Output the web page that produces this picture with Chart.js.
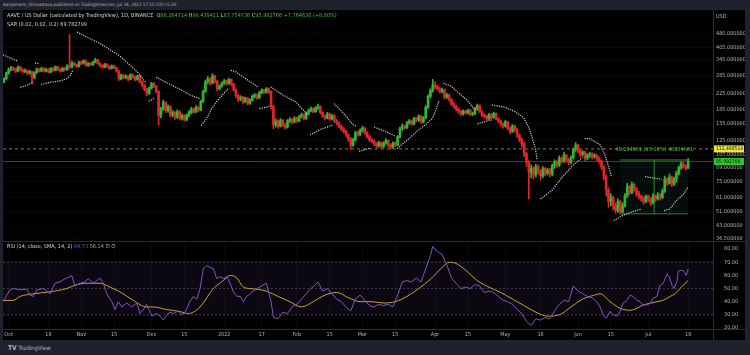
<!DOCTYPE html>
<html><head><meta charset="utf-8">
<script src="https://cdn.jsdelivr.net/npm/chart.js@4.4.0/dist/chart.umd.min.js"></script>
<style>
html,body{margin:0;padding:0;width:750px;height:355px;overflow:hidden;background:#1e222d;}
body{font-family:"Liberation Sans Narrow","DejaVu Sans Condensed","Liberation Sans",sans-serif;}
#bg{position:absolute;left:3px;top:10px;width:742px;height:330px;background:#000;}
canvas{position:absolute;left:0;}
.t{position:absolute;white-space:nowrap;line-height:1;}
.g{color:#3cc43c}.w{color:#d1d4dc}
</style></head><body>
<div id="bg"></div>
<canvas id="main" width="745" height="231" style="top:10px;width:745px;height:231px"></canvas>
<canvas id="rsi" width="745" height="99" style="top:241px;width:745px;height:99px"></canvas>
<div class="t" style="left:3px;top:3px;font-size:4.5px;color:#b2b5be">Aaryamann_Shrivastava published on TradingView.com, Jul 18, 2022 17:15 UTC+5:30</div>
<div class="t w" style="left:7px;top:13px;font-size:5.5px">AAVE / US Dollar (calculated by TradingView), 1D, BINANCE&nbsp; O<span class="g">88.264714</span> H<span class="g">99.439411</span> L<span class="g">87.754736</span> C<span class="g">95.992766</span> <span class="g">+7.764630 (+8.80%)</span></div>
<div class="t w" style="left:7px;top:21.5px;font-size:5.5px">SAR (0.02, 0.02, 0.2) <span style="color:#d1d4dc">69.782799</span></div>
<div class="t w" style="left:7px;top:243.5px;font-size:5.5px">RSI (14, close, SMA, 14, 2) <span style="color:#7e57c2">64.73</span> <span style="color:#c9a43a">56.14</span> ∅ ∅</div>
<div class="t" style="left:716px;top:13.5px;font-size:5.5px;color:#b2b5be">USD</div>
<div class="t" style="left:8px;top:344.5px;font-size:6px;color:#b2b5be"><b style="font-size:6.5px">TV</b> TradingView</div>
<script>
const FONT='"Liberation Sans Narrow","DejaVu Sans Condensed","Liberation Sans",sans-serif';
const START_DAY=-2;          // first candle = Sep 29 2021 (day 0 = Oct 1 2021)
const XMIN=-2.4, XMAX=300.6;
const opens=[262,272,292,305,312,308,300,315,305,298, 302,292,298,276,295,306,300,310,300,306, 296,310,302,316,306,300,311,305,322,316, 332,325,318,335,330,341,322,330,325,336, 345,330,320,315,326,318,310,320,314,300, 272,285,276,282,270,286,278,270,282,262, 250,238,226,242,256,248,232,172,186,202, 182,192,172,178,168,180,166,171,163,172, 178,186,180,190,184,204,232,262,272,258, 282,264,240,248,258,266,256,270,255,238, 220,210,216,204,213,200,208,218,222,214, 228,236,230,240,232,192,152,160,150,161, 152,148,160,163,158,166,160,169,173,165, 176,182,187,180,188,192,178,170,166,175, 164,171,160,156,150,144,140,134,128,118, 126,138,135,142,146,138,132,126,124,120, 117,122,116,121,125,118,115,121,118,131, 145,150,147,156,160,154,165,161,170,158, 166,190,218,235,252,246,240,232,237,216, 222,210,198,192,186,180,175,181,177,183, 174,176,186,194,180,172,170,165,173,167, 176,165,160,154,150,158,146,140,150,144, 134,127,120,106,95,84,88,81,90,85, 80,88,83,86,82,91,95,92,100,97, 104,98,95,101,112,118,110,105,108,100, 104,106,102,104,100,97,90,79,67,58, 61,55,52,58,51,55,62,70,65,72, 68,64,62,60,58,62,60,57,62,60, 63,61,66,77,73,79,72,77,83,89, 93,90,88.264714];
const closes=[272,292,305,312,308,300,315,305,298,302, 292,298,276,295,306,300,310,300,306,296, 310,302,316,306,300,311,305,322,316,332, 325,318,335,330,341,322,330,325,336,345, 330,320,315,326,318,310,320,314,300,272, 285,276,282,270,286,278,270,282,262,250, 238,226,242,256,248,232,172,186,202,182, 192,172,178,168,180,166,171,163,172,178, 186,180,190,184,204,232,262,272,258,282, 264,240,248,258,266,256,270,255,238,220, 210,216,204,213,200,208,218,222,214,228, 236,230,240,232,192,152,160,150,161,152, 148,160,163,158,166,160,169,173,165,176, 182,187,180,188,192,178,170,166,175,164, 171,160,156,150,144,140,134,128,118,126, 138,135,142,146,138,132,126,124,120,117, 122,116,121,125,118,115,121,118,131,145, 150,147,156,160,154,165,161,170,158,166, 190,218,235,252,246,240,232,237,216,222, 210,198,192,186,180,175,181,177,183,174, 176,186,194,180,172,170,165,173,167,176, 165,160,154,150,158,146,140,150,144,134, 127,120,106,95,84,88,81,90,85,80, 88,83,86,82,91,95,92,100,97,104, 98,95,101,112,118,110,105,108,100,104, 106,102,104,100,97,90,79,67,58,61, 55,52,58,51,55,62,70,65,72,68, 64,62,60,58,62,60,57,62,60,63, 61,66,77,73,79,72,77,83,89,93, 90,88.264714,95.992766];
const highs=[276,296,312,318,316,311,320,318,309,308, 304,303,300,298,312,310,315,313,311,309, 314,313,320,318,309,315,314,325,475,340, 336,328,340,341,346,344,334,334,340,352, 348,333,325,330,329,321,324,323,316,302, 289,288,286,284,290,289,281,285,284,265, 253,241,246,260,259,250,234,190,208,204, 196,194,182,180,184,182,175,173,175,182, 190,188,194,192,208,236,268,280,275,290, 284,266,252,262,270,268,274,272,257,240, 223,220,218,216,215,212,222,226,224,232, 240,238,244,242,234,195,164,162,165,163, 155,163,167,165,169,168,172,177,175,179, 186,191,189,192,198,194,180,172,178,177, 174,173,163,158,152,147,142,136,130,129, 141,141,145,150,148,140,134,128,126,122, 124,123,123,128,126,120,123,123,133,148, 154,152,159,163,162,168,167,173,171,169, 194,222,240,270,262,252,244,242,239,226, 224,212,202,195,189,183,184,183,186,185, 179,190,198,196,182,175,172,176,175,179, 177,167,162,156,161,159,148,153,152,146, 136,129,122,108,97,92,90,93,92,87, 90,89,88,88,93,98,97,103,102,108, 105,100,103,114,122,119,112,110,109,106, 108,107,106,105,102,98,91,81,69,64, 62,57,60,59,57,64,73,71,74,73, 69,66,63,62,63,63,61,64,63,65, 64,68,80,78,82,80,79,85,91,96, 95,92,99.439411];
const lows=[258,268,288,300,302,294,297,300,292,294, 286,288,256,272,291,296,297,296,297,292, 293,298,300,302,296,298,301,302,310,312, 320,312,315,325,327,318,318,320,322,332, 326,315,310,312,313,305,307,309,295,266, 268,272,272,265,268,274,265,267,258,246, 234,220,223,239,244,228,152,166,183,178, 178,168,168,163,165,162,162,159,160,169, 175,176,177,180,182,202,229,256,252,255, 258,234,236,245,253,251,253,250,232,214, 204,206,198,201,196,197,205,214,210,212, 225,226,227,226,186,145,148,146,148,149, 144,146,157,154,156,157,158,166,162,163, 173,179,177,178,185,175,167,162,164,161, 162,157,152,147,141,137,131,124,112,116, 124,132,133,139,135,129,123,121,117,114, 115,113,114,119,115,112,113,116,117,129, 142,144,145,153,151,152,158,159,155,156, 164,187,214,230,240,235,228,228,212,212, 205,194,188,182,176,171,172,174,174,171, 171,173,183,177,169,166,162,163,160,165, 162,156,150,146,148,143,136,138,140,130, 123,115,102,90,60,78,77,79,82,76, 78,80,81,79,80,88,89,90,94,95, 95,92,93,99,109,107,102,103,97,98, 101,99,100,97,94,87,76,62,54,55, 52,50,50.5,49.65,50,54,61,63,64,66, 62,60,58,56,57,58,55,56,58,59, 59,60,65,71,72,70,71,74,81,87, 88,86,87.754736];
// Parabolic SAR (day, price); null splits the trend runs
const sarX=[-2.4,1,4,null,5,8,10.5,null,11.2,13,null,13.8,17.7,21.9,24.8,26.2,27.4,null,29.2,33.3,39,43.3,47.5,51,55.2,58.8,null,59.8,62.3,null,63,68,73.7,78,81.6,null,82.2,84.4,86.5,88.6,90.8,93.6,null,94.8,97,101.3,106.3,null,107,111.3,null,111.8,117,122.7,127.7,null,128.6,132.6,138.3,null,138.8,142.6,146.9,148.2,null,149.6,154.5,null,156,160.2,165.2,null,165.8,170.2,174.4,178,180.8,182.3,183.7,null,185.5,188.7,192.2,195.8,199,null,200,202,205.6,null,206.2,211.7,216,219.8,222,223.4,224.8,225.5,null,227,232,236.3,240.6,244.9,null,245.8,248,252.3,254.4,255.8,257.2,null,258.2,262.3,266.6,270.2,null,271.6,275.2,278.7,null,279.7,282.2,285.1,288,290];
const sarY=[368,352,339,null,244,251,260,null,332,329,null,253,260,265,272,283,303,null,490,460,425,392,362,330,294,257,null,205,213,null,277,257,236,220,212,null,151,164,185,203,219,240,null,303,297,271,246,null,187,192,null,246,222,203,172,null,134,143,152,null,199,178,153,150,null,109,114,null,148,141,132,null,113,126,141,153,165,183,207,null,257,248,227,207,184,null,154,157,162,null,196,190,180,167,147,130,113,99,null,59.8,67,79,91,101,null,128,128,119,105,92,80,null,45.6,48.9,51.2,52.8,null,79.4,78,76.8,null,51.7,52.8,59,63.5,69.782799];
const priceTicks=[480,405,345,285,225,185,155,125,105,89,75,61,51,43,36.5];
const lastPrice=95.992766, markedPrice=112.498514;
const rangeDays=[261,290], rangeLow=49.645, rangeHigh=97.88, rangeMid=275.5;
const rangeText='48.234661 (97.16%) 48234661';
// RSI (day, value) and its SMA
const rsiX=[-2.4,0.6,2,4.9,7.7,9.1,10.5,12,14.8,17.7,19.8,21.9,24.1,26.2,26.9,28.3,30.5,32.6,34,36.1,39,40.4,41.9,44,45.4,46.8,48.3,50.4,52.5,54.7,56.1,57.5,58.9,61.1,63.2,64.6,66,67.5,68.9,70.3,72.4,73.9,75.3,77.4,78.8,80.3,81.7,83.1,84.5,86,87.4,88.8,90.2,91.6,93.1,94.5,95.9,97.4,98.8,100.2,101.6,103,106,108,110,112,113,115,117,119,121,123,125,127,129,131,132,134,136,138,140,142,144,146,148,150,152,154,156,158,160,162,164,166,168,170,172,174,176,178,180,181,183,185,187,189,191,193,195,197,199,201,203,205,207,209,211,213,215,217,219,221,223,225,227,229,231,233,235,237,239,241,243,245,247,249,251,252.4,253.7,255,256.7,258,259.7,260.9,262.2,263.9,265.2,266.5,268.2,269.5,270.8,272.5,273.7,275,276.7,278,279.3,281,281.9,283.2,284,285.3,285.7,287.4,288.3,289.2,290];
const rsiY=[40,49,50,49,49.5,45,44,49,50,46,54,55,57.5,59,60,52,54,55,57.5,54,58,54,46,40,34,40,36,39,36,39,31,34,38,29,31,29,26,30,32,31,33,30,32,40,44,42,50,65,67.5,66,65,57.5,59,57.5,59,54,47.5,44,44,40,44,46,50,52,54,40,28,27,32,31,36,38,42,46,50,53,55,48,50,46,42,40,36,33,42,45,41,37,36,38,37,38,36,45,55,56,55,58,55,65,75,82,78,76,68,58,54,50,51,50,53,52,47,48,47,44,41,40,38,34,31,25,22,27,26,28,27,33,38,41,40,52,48,46,44,43,40,36,30,27.5,32.5,30,29,32.5,38.75,41,45,44,41,40,37.5,37.5,38.75,42.5,44,52.5,53.75,61,58.75,52,50,56,63,64,63,60,64.73];
const maX=[-2.4,2,4.9,10.5,17.7,24.8,29.1,34.7,39,43.3,47.5,53.2,58.9,61.8,67.5,73.1,76.7,81.7,87.4,91.6,94.5,97.4,100.2,103,110,115,120,125,130,135,140,145,150,155,160,165,170,175,180,185,188,191,195,200,205,210,215,220,225,230,235,240,245,250,252.4,256.7,260.9,265.2,268.2,270.8,273.7,276.7,279.3,282.3,284.4,286.5,290];
const maY=[41,41,44,46,47.5,50,53,54,54,51,47.5,41,36,36,34,32.5,31,36,50,56,60,58,51,50,48,44,40,36,40,45,47,43,40,40,39,40,44,50,57,66,70,69,64,56,51,47,42,37,32,29,30,36,42,45,46,40,35,33.5,35,37.5,38.75,40,41,44,46,50,56.14];
const rsiTicks=[80,70,60,50,40,30,20];
const tickDays=[0,17,31,45,61,75,92,108,123,137,151,165,182,196,212,227,243,257,273,290];
const tickLabels=['Oct','18','Nov','15','Dec','15','2022','17','Feb','15','Mar','15','Apr','15','May','16','Jun','15','Jul','18'];

const GREEN='#2fb82f', RED='#e0262b';
const pts=(xs,ys)=>xs.map((x,i)=>({x:x,y:ys[i]}));
const candleCol=closes.map((c,i)=>c>=opens[i]?GREEN:RED);
const wickData=highs.map((h,i)=>({x:START_DAY+i,y:[lows[i],h]}));
const bodyData=closes.map((c,i)=>({x:START_DAY+i,y:[opens[i],c]}));
const hline=(v)=>[{x:XMIN,y:v},{x:XMAX,y:v}];
const noPad=s=>{s.paddingTop=0;s.paddingBottom=0;s.paddingLeft=0;s.paddingRight=0;};

const mainOverlay={id:'mainOverlay',afterDraw(chart){
  const ctx=chart.ctx,ys=chart.scales.y,xs=chart.scales.x,ca=chart.chartArea;
  ctx.save();
  ctx.strokeStyle='#2a2e39';ctx.lineWidth=1;
  ctx.beginPath();ctx.moveTo(ca.right+0.5,0);ctx.lineTo(ca.right+0.5,chart.height);ctx.stroke();
  ctx.font='5px '+FONT;ctx.textBaseline='middle';
  const box=(v,bg,fg,txt)=>{const py=ys.getPixelForValue(v);ctx.fillStyle=bg;ctx.fillRect(ca.right+1,py-3.5,30,7);ctx.fillStyle=fg;ctx.textAlign='left';ctx.fillText(txt,ca.right+3,py+0.3);};
  box(markedPrice,'#f0e442','#131722',markedPrice.toFixed(6));
  box(lastPrice,'#2fc42f','#0b2a0b',lastPrice.toFixed(6));
  ctx.font='5.5px '+FONT;ctx.fillStyle='#3fc83f';ctx.textAlign='center';
  ctx.fillText(rangeText,xs.getPixelForValue(rangeMid),ys.getPixelForValue(markedPrice)+0.3);
  ctx.restore();
}};

new Chart(document.getElementById('main'),{
  type:'bar',
  data:{datasets:[
    {type:'line',data:pts(sarX,sarY),borderColor:'#cfcfcf',borderWidth:1.2,borderDash:[1.2,1.15],pointRadius:0,spanGaps:false,order:0},
    {type:'bar',data:bodyData,backgroundColor:candleCol,barThickness:2,minBarLength:1,grouped:false,order:1},
    {type:'bar',data:wickData,backgroundColor:candleCol,barThickness:1,grouped:false,order:2},
    {type:'line',data:[{x:rangeMid,y:rangeLow},{x:rangeMid,y:rangeHigh}],borderColor:'#2e8b2e',borderWidth:1,pointRadius:0,order:3},
    {type:'line',data:[{x:rangeDays[0],y:rangeHigh},{x:rangeDays[1],y:rangeHigh}],borderColor:'#2e8b2e',borderWidth:1,pointRadius:0,fill:'+1',backgroundColor:'rgba(20,110,90,0.13)',order:4},
    {type:'line',data:[{x:rangeDays[0],y:rangeLow},{x:rangeDays[1],y:rangeLow}],borderColor:'#2e8b2e',borderWidth:1,pointRadius:0,order:4},
    {type:'line',data:hline(markedPrice),borderColor:'#8c7d2a',borderWidth:1,borderDash:[3,3],pointRadius:0,order:5},
    {type:'line',data:hline(lastPrice),borderColor:'#1d5a22',borderWidth:1,pointRadius:0,order:5}
  ]},
  options:{responsive:false,animation:false,devicePixelRatio:1,events:[],
    layout:{padding:{left:3,right:0,top:0,bottom:0}},
    plugins:{legend:{display:false},tooltip:{enabled:false}},
    scales:{
      x:{type:'linear',min:XMIN,max:XMAX,offset:false,display:false},
      y:{type:'logarithmic',position:'right',min:35.27,max:646.8,
        afterBuildTicks:s=>{s.ticks=priceTicks.map(v=>({value:v}));},
        afterFit:s=>{s.width=32;noPad(s);},
        ticks:{autoSkip:false,color:'#b2b5be',font:{size:5.5,family:FONT},padding:3,callback:v=>Number(v).toFixed(6)},
        grid:{color:'rgba(255,255,255,0.035)',drawTicks:false},border:{display:false}}
    }},
  plugins:[mainOverlay]
});

const rsiOverlay={id:'rsiOverlay',afterDraw(chart){
  const ctx=chart.ctx,ca=chart.chartArea;
  ctx.save();ctx.strokeStyle='#2a2e39';ctx.lineWidth=1;
  ctx.beginPath();ctx.moveTo(3,0.5);ctx.lineTo(chart.width,0.5);ctx.stroke();
  ctx.beginPath();ctx.moveTo(ca.right+0.5,0);ctx.lineTo(ca.right+0.5,chart.height);ctx.stroke();
  ctx.beginPath();ctx.moveTo(3,ca.bottom+0.5);ctx.lineTo(chart.width,ca.bottom+0.5);ctx.stroke();
  ctx.restore();
}};

new Chart(document.getElementById('rsi'),{
  type:'line',
  data:{datasets:[
    {data:pts(rsiX,rsiY),borderColor:'#7e57c2',borderWidth:1,pointRadius:0,order:0},
    {data:pts(maX,maY),borderColor:'#c9a43a',borderWidth:1,pointRadius:0,order:1,cubicInterpolationMode:'monotone'},
    {data:hline(70),borderColor:'rgba(120,123,134,0.55)',borderWidth:1,borderDash:[2,2],pointRadius:0,fill:'+1',backgroundColor:'rgba(126,87,194,0.09)',order:3},
    {data:hline(30),borderColor:'rgba(120,123,134,0.55)',borderWidth:1,borderDash:[2,2],pointRadius:0,order:3},
    {data:hline(50),borderColor:'rgba(120,123,134,0.45)',borderWidth:1,borderDash:[2,2],pointRadius:0,order:3}
  ]},
  options:{responsive:false,animation:false,devicePixelRatio:1,events:[],
    layout:{padding:{left:3,right:0,top:0,bottom:0}},
    plugins:{legend:{display:false},tooltip:{enabled:false}},
    scales:{
      x:{type:'linear',min:XMIN,max:XMAX,offset:false,
        afterBuildTicks:s=>{s.ticks=tickDays.map(v=>({value:v}));},
        afterFit:s=>{s.height=11;noPad(s);},
        ticks:{autoSkip:false,maxRotation:0,color:'#b2b5be',font:{size:5.5,family:FONT},padding:2,
          callback:(v)=>{const k=tickDays.indexOf(v);return k>=0?tickLabels[k]:'';}},
        grid:{color:'rgba(255,255,255,0.03)',drawTicks:false},border:{display:false}},
      y:{type:'linear',position:'right',min:19.24,max:86.1,
        afterBuildTicks:s=>{s.ticks=rsiTicks.map(v=>({value:v}));},
        afterFit:s=>{s.width=32;noPad(s);},
        ticks:{autoSkip:false,color:'#b2b5be',font:{size:5.5,family:FONT},padding:3,callback:v=>Number(v).toFixed(2)},
        grid:{display:false},border:{display:false}}
    }},
  plugins:[rsiOverlay]
});
</script>
</body></html>
